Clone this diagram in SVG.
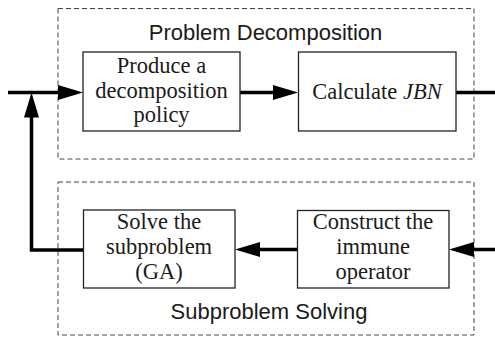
<svg xmlns="http://www.w3.org/2000/svg" width="495" height="337" viewBox="0 0 495 337">
  <style>
    .frame { fill: none; stroke: #444; stroke-width: 1; stroke-dasharray: 5 3; }
    .box { fill: #fff; stroke: #222; stroke-width: 1.3; }
    .flow { fill: none; stroke: #000; stroke-width: 3.5; }
    .title { font-family: "Liberation Sans", Arial, sans-serif; font-size: 22px; fill: #1a1a1a; text-anchor: middle; }
    .label { font-family: "Liberation Serif", "Times New Roman", serif; font-size: 22.5px; fill: #1a1a1a; text-anchor: middle; }
  </style>
  <defs>
    <marker id="head" markerUnits="userSpaceOnUse" markerWidth="25" markerHeight="15" refX="5" refY="7.5" orient="auto" overflow="visible">
      <path d="M0,0 L25,7.5 L0,15 Z" fill="#000"/>
    </marker>
  </defs>
  <rect width="495" height="337" fill="#fff"/>

  <!-- dashed stage frames -->
  <g id="stage-decomposition">
    <rect class="frame" x="58" y="8.5" width="416" height="150.5"/>
    <text class="title" x="265.5" y="40">Problem Decomposition</text>
  </g>
  <g id="stage-solving">
    <rect class="frame" x="58" y="182" width="416" height="153"/>
    <text class="title" x="269" y="318.5">Subproblem Solving</text>
  </g>

  <!-- connectors -->
  <g id="connectors">
    <path class="flow" d="M8,92.5 H63" marker-end="url(#head)"/>
    <path class="flow" d="M240,92.5 H278" marker-end="url(#head)"/>
    <path class="flow" d="M456,92.5 H495"/>
    <path class="flow" d="M495,249.5 H469" marker-end="url(#head)"/>
    <path class="flow" d="M297,249.5 H255" marker-end="url(#head)"/>
    <path class="flow" d="M83,250 H31.5 V112.5" marker-end="url(#head)"/>
  </g>

  <g id="produce-policy">
    <rect class="box" x="83" y="52" width="157" height="79"/>
    <text class="label" x="161.5" y="73">Produce a</text>
    <text class="label" x="161.5" y="97.5">decomposition</text>
    <text class="label" x="161.5" y="122">policy</text>
  </g>

  <g id="calculate-jbn">
    <rect class="box" x="298.5" y="52" width="157.5" height="79"/>
    <text class="label" x="377" y="99">Calculate <tspan font-style="italic">JBN</tspan></text>
  </g>

  <g id="construct-operator">
    <rect class="box" x="297.5" y="210.5" width="151.5" height="77.5"/>
    <text class="label" x="373" y="229">Construct the</text>
    <text class="label" x="373" y="254">immune</text>
    <text class="label" x="373" y="279">operator</text>
  </g>

  <g id="solve-subproblem">
    <rect class="box" x="83.5" y="210" width="151.5" height="78"/>
    <text class="label" x="159" y="229">Solve the</text>
    <text class="label" x="159" y="254">subproblem</text>
    <text class="label" x="159" y="278.5">(GA)</text>
  </g>
</svg>
